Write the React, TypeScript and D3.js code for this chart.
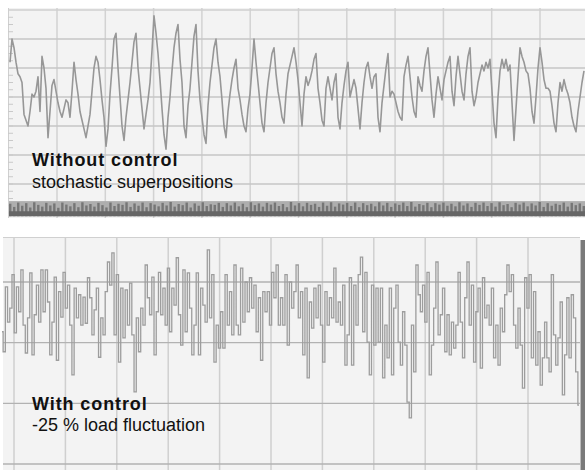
import * as d3 from "d3";

// upper trace: load without control, one reading every 2 px of the original plot
const topLoad = [
  52, 60, 57, 52, 48, 47, 45, 34, 32, 30,
  35, 41, 40, 42, 47, 35, 54, 50, 43, 26,
  35, 44, 46, 42, 38, 35, 33, 36, 39, 38,
  33, 42, 52, 46, 41, 35, 32, 29, 26, 30,
  34, 42, 50, 54, 52, 46, 39, 33, 23, 29,
  41, 50, 60, 62, 50, 40, 30, 25, 33, 39,
  45, 52, 59, 62, 50, 43, 36, 29, 34, 39,
  45, 56, 68, 62, 55, 46, 36, 27, 22, 33,
  40, 49, 57, 62, 65, 53, 45, 30, 26, 37,
  43, 52, 61, 65, 49, 39, 33, 27, 24, 37,
  45, 51, 57, 60, 52, 47, 39, 30, 26, 35,
  41, 46, 50, 53, 43, 39, 34, 30, 28, 36,
  41, 50, 60, 52, 45, 38, 31, 28, 38, 45,
  50, 55, 57, 48, 42, 38, 33, 31, 41, 48,
  51, 54, 57, 52, 46, 38, 30, 41, 47, 44,
  46, 49, 53, 55, 43, 38, 32, 30, 43, 47,
  43, 39, 45, 48, 33, 29, 38, 44, 49, 52,
  40, 43, 46, 43, 36, 29, 38, 45, 50, 52,
  47, 43, 47, 48, 33, 28, 38, 44, 50, 55,
  40, 42, 41, 38, 35, 33, 32, 47, 51, 54,
  47, 40, 35, 33, 47, 44, 42, 49, 54, 57,
  48, 39, 33, 41, 47, 43, 39, 46, 49, 52,
  54, 42, 37, 47, 54, 48, 42, 39, 48, 54,
  57, 42, 37, 40, 45, 48, 51, 49, 52, 50,
  53, 42, 31, 26, 40, 49, 53, 50, 53, 49,
  51, 38, 25, 36, 47, 57, 54, 52, 49, 48,
  43, 35, 31, 40, 50, 57, 52, 46, 43, 43,
  42, 37, 31, 28, 38, 45, 42, 46, 43, 41,
  38, 33, 30, 28, 35, 40, 45, 49,
];

// fast component: the striped strip along the bottom of the upper panel
const bandRipple = [
  3.2, 2.1, 3.6, 2.5, 3.4, 1.9, 3.7, 2.8, 2.2, 3.5, 2.6, 3.3, 1.8, 3.6, 2.9, 2.3,
  3.4, 2.0, 3.7, 2.6, 3.1, 2.2, 3.5, 2.7, 1.9, 3.6, 2.4, 3.2, 2.8, 3.7, 2.1, 3.3,
  2.5, 3.6, 2.0, 3.4, 2.9, 2.3, 3.5, 2.6, 3.8, 2.2, 3.1, 2.7, 3.6, 1.9, 3.3, 2.5,
  3.7, 2.4, 3.0, 2.8, 3.5, 2.1, 3.4, 2.6, 3.6, 2.3, 3.2, 2.0, 3.7, 2.7, 3.3, 2.2,
  3.5, 2.9, 3.6, 2.4, 3.1, 2.0, 3.8, 2.6, 3.4, 2.3, 3.5, 2.8, 3.2, 2.1, 3.6, 2.5,
  3.7, 2.2, 3.3, 2.9, 3.5, 2.4, 3.6, 2.0, 3.4, 2.7, 3.2, 2.3, 3.7, 2.6, 3.5, 2.1,
  3.3, 2.8, 3.6, 2.4, 3.8, 2.2, 3.1, 2.7, 3.5, 2.0, 3.4, 2.9, 3.6, 2.5, 3.2, 2.3,
  3.7, 2.6, 3.3, 2.1, 3.5, 2.8, 3.6, 2.4, 3.4, 2.2, 3.7, 2.7, 3.1, 2.0, 3.5, 2.9,
  3.6, 2.3, 3.3, 2.6, 3.8, 2.1, 3.4, 2.5, 3.2, 2.8, 3.6, 2.2, 3.5, 2.7, 3.3, 2.4,
];

// lower trace: load with control, stepped samples
const bottomLoad = [
  21.8, 18.5, 29.2, 23.4, 25.7, 31.2, 21.6, 29.2, 25.1, 32.0,
  22.9, 18.3, 24.1, 31.5, 18.0, 24.6, 29.5, 23.4, 32.0, 25.1,
  32.0, 26.7, 18.0, 23.4, 30.8, 17.1, 28.4, 24.2, 31.6, 25.7,
  29.5, 22.9, 14.7, 29.0, 24.1, 27.9, 22.9, 27.5, 23.2, 30.7,
  27.4, 21.3, 25.4, 29.0, 17.6, 24.1, 21.3, 28.4, 33.3, 29.5,
  34.8, 21.3, 31.2, 16.8, 29.0, 20.8, 28.7, 22.9, 29.8, 21.3,
  11.9, 24.1, 18.5, 25.7, 22.9, 32.8, 27.4, 24.6, 30.8, 18.0,
  25.1, 31.6, 24.6, 29.0, 22.9, 32.3, 21.8, 29.0, 26.2, 34.0,
  24.6, 19.6, 32.0, 21.8, 31.5, 25.7,
  18.0, 22.9, 31.5, 18.0, 29.0, 26.2, 23.4, 35.3, 24.1, 31.2,
  16.8, 22.9, 19.1, 25.1, 19.1, 31.2, 22.9, 28.4, 21.3, 32.8,
  22.9, 21.3, 32.3, 23.4, 30.0, 25.1, 30.7, 25.7, 29.5, 21.8,
  27.4, 17.1, 28.4, 25.1, 28.4, 22.9, 31.6, 27.4, 32.8, 22.9,
  27.4, 22.9, 31.2, 19.6, 30.0, 25.7, 28.4, 32.8, 24.1, 28.4,
  18.0, 29.0, 14.2, 26.7, 22.4, 29.0, 24.1, 29.5, 22.9, 16.8,
  28.4, 22.9, 27.4, 24.1, 32.3, 23.4, 26.7, 22.9, 29.5, 16.3,
  21.3, 30.7, 16.3, 29.5, 22.9, 31.2, 34.1, 21.8, 31.6, 20.1,
  14.7, 29.5, 19.6, 29.0,
  20.1, 29.0, 14.2, 22.9, 17.5, 29.0, 14.7, 25.7, 29.5, 20.1,
  16.3, 25.1, 19.6, 10.2, 7.6, 22.9, 15.2, 32.8, 27.9, 25.1,
  29.5, 23.4, 31.6, 14.7, 19.6, 25.7, 33.3, 21.3, 24.6, 29.0,
  18.5, 24.6, 18.0, 23.4, 19.1, 22.9, 31.6, 23.4, 17.5, 27.4,
  33.3, 22.9, 29.5, 16.8, 25.1, 29.0, 15.8, 30.7, 24.1, 26.2,
  22.9, 29.0, 17.5, 22.9, 16.3, 25.7, 21.8, 27.9, 32.8, 28.4,
  31.2, 22.9, 19.1, 25.7, 19.6, 12.5, 30.7, 25.7, 31.2, 17.5,
  28.4, 16.3, 21.8, 13.0, 17.5, 23.4, 17.5, 15.2, 31.2, 21.3,
  16.3, 20.8, 26.7, 11.4, 18.0, 27.4, 17.5, 27.9, 24.1, 15.2,
  9.7,
];

const topGridValues = [10, 20, 30, 40, 50, 60];
const topMinorValues = d3.range(0, 70, 2.5);
const bottomGridValues = [0, 10, 20, 30];

const FONT = "'Liberation Sans', Arial, Helvetica, sans-serif";

export default function App() {
  const width = 585;
  const height = 470;

  const topX = d3.scaleLinear().domain([0, topLoad.length - 1]).range([10, 584]);
  const topY = d3.scaleLinear().domain([0, 70]).range([213, 10]);
  const topGrid = d3.scaleLinear().domain([0, 12]).range([8.7, 588.3]);
  const bandX = d3.scaleBand<number>()
    .domain(d3.range(bandRipple.length))
    .range([9, 585])
    .paddingInner(0.4);

  const botX = d3.scaleLinear().domain([0, bottomLoad.length - 1]).range([2, 579]);
  const botY = d3.scaleLinear().domain([0, 30]).range([464, 282]);
  const botGrid = d3.scaleLinear().domain([0, 10]).range([14, 528]);

  const topLine = d3
    .line<number>()
    .x((_, i) => topX(i))
    .y((d) => topY(d));

  const botLine = d3
    .line<number>()
    .x((_, i) => botX(i))
    .y((d) => botY(d))
    .curve(d3.curveStep);

  const bandBase = topY(-1.1);

  return (
    <svg
      width={width}
      height={height}
      style={{ position: "absolute", left: 0, top: 0, background: "#fff" }}
    >
      {/* upper panel */}
      <rect x={8} y={8} width={577} height={210} fill="#f3f3f3" />
      {topGrid.ticks(12).filter((t) => t > 0 && t < 12).map((t) => (
        <line key={"tv" + t} x1={topGrid(t)} x2={topGrid(t)} y1={8} y2={218}
          stroke="#d2d2d2" strokeWidth={1.5} />
      ))}
      {topGridValues.map((v) => (
        <line key={"th" + v} x1={8} x2={585} y1={topY(v)} y2={topY(v)}
          stroke="#c6c6c6" strokeWidth={1.5} />
      ))}
      <line x1={8} x2={585} y1={topY(70)} y2={topY(70)} stroke="#cfcfcf" strokeWidth={1.5} />
      <line x1={8.5} x2={8.5} y1={8} y2={218} stroke="#cfcfcf" strokeWidth={1} />
      {topMinorValues.map((v) => (
        <line key={"tm" + v} x1={8} x2={13} y1={topY(v)} y2={topY(v)}
          stroke="#c9c9c9" strokeWidth={1} />
      ))}
      <path d={topLine(topLoad) ?? ""} fill="none" stroke="#979797" strokeWidth={1.6}
        strokeLinejoin="round" />

      {/* striped strip */}
      <rect x={9} y={topY(4.1)} width={576} height={bandBase - topY(4.1)} fill="#aeaeae" />
      {bandRipple.map((v, i) => (
        <rect key={"b" + i} x={bandX(i)} y={topY(v)} width={bandX.bandwidth()}
          height={bandBase - topY(v)} fill="#767676" />
      ))}
      <rect x={9} y={topY(0.6)} width={576} height={bandBase - topY(0.6)} fill="#666" />

      <text x={32} y={166} fontFamily={FONT} fontWeight="bold" fontSize={18}
        letterSpacing={0.9} fill="#111">Without control</text>
      <text x={32} y={188} fontFamily={FONT} fontSize={18} fill="#111">
        stochastic superpositions
      </text>

      {/* lower panel */}
      <rect x={3} y={237} width={577} height={233} fill="#f3f3f3" />
      {botGrid.ticks(10).map((t) => (
        <line key={"bv" + t} x1={botGrid(t)} x2={botGrid(t)} y1={237} y2={470}
          stroke="#cfcfcf" strokeWidth={1.5} />
      ))}
      {bottomGridValues.map((v) => (
        <line key={"bh" + v} x1={3} x2={580} y1={botY(v)} y2={botY(v)}
          stroke="#b2b2b2" strokeWidth={1.3} />
      ))}
      <line x1={3} x2={580} y1={237.5} y2={237.5} stroke="#d0d0d0" strokeWidth={1} />
      <path d={botLine(bottomLoad) ?? ""} fill="none" stroke="#9d9d9d" strokeWidth={1.3} />
      <rect x={580.5} y={240} width={4.5} height={230} fill="#7a7a7a" />

      <text x={32} y={410} fontFamily={FONT} fontWeight="bold" fontSize={18}
        letterSpacing={0.9} fill="#111">With control</text>
      <text x={32} y={431} fontFamily={FONT} fontSize={18} fill="#111">
        -25 % load fluctuation
      </text>
    </svg>
  );
}
